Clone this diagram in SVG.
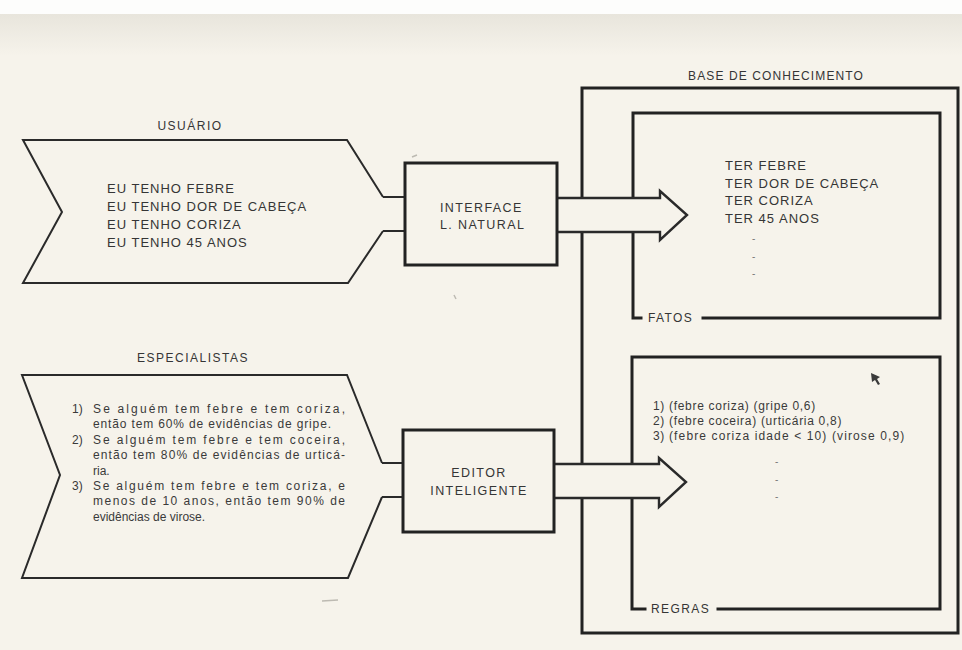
<svg xmlns="http://www.w3.org/2000/svg" width="962" height="650" viewBox="0 0 962 650">
  <defs>
    <linearGradient id="paperTop" x1="0" y1="0" x2="0" y2="1">
      <stop offset="0" stop-color="#e8e5dc"/>
      <stop offset="1" stop-color="#f6f3eb"/>
    </linearGradient>
    <style>
      .ln { fill: none; stroke: #222; stroke-width: 3; stroke-linejoin: miter; stroke-linecap: square; }
      .chev { fill: none; stroke: #2a2a2a; stroke-width: 2; stroke-linejoin: miter; }
      .arrow { fill: #f6f3eb; stroke: #2a2a2a; stroke-width: 2.4; stroke-linejoin: miter; }
      text { font-family: "Liberation Sans", Arial, sans-serif; fill: #353535; }
      .title { font-size: 12px; letter-spacing: 1.5px; }
      .caps { font-size: 13px; letter-spacing: 1px; }
      .box { font-size: 12.5px; letter-spacing: 1.4px; }
      .lbl { font-size: 12px; letter-spacing: 1.4px; }
      .rule { font-size: 12px; fill: #3a3a3a; }
      .kb { font-size: 12px; letter-spacing: 0.7px; fill: #3a3a3a; }
      .dot { font-size: 10px; fill: #777; }
      .smudge { fill: none; stroke: #bdbab2; stroke-width: 1.5; }
    </style>
  </defs>

  <!-- paper -->
  <rect x="0" y="0" width="962" height="650" fill="#f6f3eb"/>
  <rect x="0" y="14" width="962" height="42" fill="url(#paperTop)"/>
  <rect x="0" y="0" width="962" height="14" fill="#fdfdfc"/>
  <path class="smudge" d="M412,157 l5,-2 M454,295 l2,4 M322,601 l16,-1"/>

  <!-- connectors: stubs into the boxes -->
  <g id="connectors">
    <path class="chev" d="M383,197 L405,197 M383,231 L405,231"/>
    <path class="chev" d="M382,463 L403,463 M382,497 L403,497"/>
  </g>

  <!-- knowledge base -->
  <g id="base-conhecimento">
    <text class="title" x="776" y="80" text-anchor="middle" style="letter-spacing:1.1px">BASE DE CONHECIMENTO</text>
    <rect class="ln" x="582" y="88" width="376" height="545"/>
  </g>

  <g id="fatos">
    <path class="ln" d="M641,318 L633,318 L633,113 L940,113 L940,318 L703,318"/>
    <text class="lbl" x="648" y="322">FATOS</text>
    <text class="caps" x="725" y="170">TER FEBRE</text>
    <text class="caps" x="725" y="188">TER DOR DE CABEÇA</text>
    <text class="caps" x="725" y="205">TER CORIZA</text>
    <text class="caps" x="725" y="223">TER 45 ANOS</text>
    <text class="dot" x="752" y="242">-</text>
    <text class="dot" x="752" y="260">-</text>
    <text class="dot" x="752" y="277">-</text>
  </g>

  <g id="regras">
    <path class="ln" d="M645,609 L632,609 L632,357 L940,357 L940,609 L718,609"/>
    <text class="lbl" x="651" y="613">REGRAS</text>
    <text class="kb" x="653" y="410">1)</text>
    <text class="kb" x="669" y="410">(febre coriza) (gripe 0,6)</text>
    <text class="kb" x="653" y="425">2)</text>
    <text class="kb" x="669" y="425">(febre coceira) (urticária 0,8)</text>
    <text class="kb" x="653" y="440">3)</text>
    <text class="kb" x="669" y="440" textLength="236">(febre coriza idade &lt; 10) (virose 0,9)</text>
    <text class="dot" x="775" y="465">-</text>
    <text class="dot" x="775" y="483">-</text>
    <text class="dot" x="775" y="500">-</text>
    <path d="M871,373 L880,377 L877,379 L880,384 L878,385 L875,380 L872,382 Z" fill="#3a3a3a"/>
  </g>

  <!-- wide arrows, drawn over the box frames -->
  <g id="arrows">
    <path class="arrow" d="M557,198 L660,198 L660,191 L687,215 L660,240 L660,232 L557,232"/>
    <path class="arrow" d="M554,464 L659,464 L659,458 L686,482 L659,507 L659,498 L554,498"/>
  </g>

  <!-- user input -->
  <g id="usuario">
    <text class="title" x="190" y="130" text-anchor="middle">USUÁRIO</text>
    <path class="chev" d="M383,197 L347,140 L23,140 L62,212 L23,283 L348,283 L383,231"/>
    <text class="caps" x="107" y="193">EU TENHO FEBRE</text>
    <text class="caps" x="107" y="211">EU TENHO DOR DE CABEÇA</text>
    <text class="caps" x="107" y="229">EU TENHO CORIZA</text>
    <text class="caps" x="107" y="247">EU TENHO 45 ANOS</text>
  </g>

  <g id="interface">
    <rect class="ln" x="405" y="163" width="152" height="102"/>
    <text class="box" x="440" y="212">INTERFACE</text>
    <text class="box" x="440" y="229">L. NATURAL</text>
  </g>

  <!-- experts -->
  <g id="especialistas">
    <text class="title" x="193" y="362" text-anchor="middle">ESPECIALISTAS</text>
    <path class="chev" d="M382,463 L347,375 L22,375 L60,475 L22,578 L348,578 L382,497"/>
    <text class="rule" x="72" y="413">1)</text>
    <text class="rule" x="93" y="413" textLength="252">Se alguém tem febre e tem coriza,</text>
    <text class="rule" x="93" y="428.4" textLength="238">então tem 60% de evidências de gripe.</text>
    <text class="rule" x="72" y="443.8">2)</text>
    <text class="rule" x="93" y="443.8" textLength="252">Se alguém tem febre e tem coceira,</text>
    <text class="rule" x="93" y="459.2" textLength="252">então tem 80% de evidências de urticá-</text>
    <text class="rule" x="93" y="474.6">ria.</text>
    <text class="rule" x="72" y="490">3)</text>
    <text class="rule" x="93" y="490" textLength="252">Se alguém tem febre e tem coriza, e</text>
    <text class="rule" x="93" y="505.4" textLength="252">menos de 10 anos, então tem 90% de</text>
    <text class="rule" x="93" y="520.8">evidências de virose.</text>
  </g>

  <g id="editor">
    <rect class="ln" x="403" y="430" width="151" height="102"/>
    <text class="box" x="479" y="477" text-anchor="middle">EDITOR</text>
    <text class="box" x="479" y="495" text-anchor="middle">INTELIGENTE</text>
  </g>
</svg>
